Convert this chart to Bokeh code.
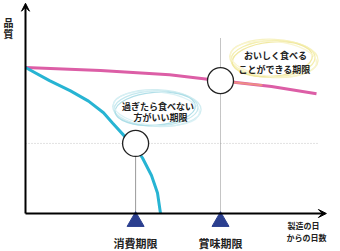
from bokeh.plotting import figure
from bokeh.models import Range1d, Arrow, VeeHead
from bokeh.core.properties import value
from bokeh.embed import file_html
from bokeh.resources import INLINE

# ---- data (days since manufacture, quality index) ----
days_taste = [0, 25, 48, 65, 82, 97]
quality_taste = [100, 98, 95, 91, 87, 82]

days_safety = [0, 8, 15, 21, 26, 29, 33, 36, 39, 42, 44, 45]
quality_safety = [100, 91, 84, 77, 69, 62, 53, 47, 38, 26, 14, 0]

deadline_days = [36.7, 65]
deadline_quality = [48, 91]
deadline_labels = ["消費期限", "賞味期限"]

y_axis_label = ["品", "質"]
x_axis_label = ["製造の日", "からの日数"]

callout_safety = ["過ぎたら食べない", "方がいい期限"]
callout_taste = ["おいしく食べる", "ことができる期限"]

FONT = value("Noto Sans CJK JP")

p = figure(width=340, height=251, output_backend="svg", toolbar_location=None,
           x_range=Range1d(-25 / 3, 315 / 3), y_range=Range1d(-38 / 1.46, 213 / 1.46),
           min_border=0, min_border_left=0, min_border_right=0,
           min_border_top=0, min_border_bottom=0)
p.axis.visible = False
p.xaxis.visible = False
p.yaxis.visible = False
p.grid.visible = False
p.outline_line_color = None
p.background_fill_color = "white"
p.border_fill_color = "white"

# guide lines
p.line([0, 97.7], [deadline_quality[0], deadline_quality[0]], line_color="#c4c4c4",
       line_width=1, line_dash="1 2")
p.line([deadline_days[1], deadline_days[1]], [0, 120], line_color="#8a8a8a",
       line_width=1, line_dash="1 1")
p.line([deadline_days[0], deadline_days[0]], [0, deadline_quality[0]], line_color="#333333",
       line_width=1, line_dash="1 1")

# callout rings (scribbled ellipses)
for dw, dh, ang, col in [(0, 0, 0.03, "#bfe5ec"), (1.5, 1.2, -0.04, "#cdebf0"),
                         (-1.2, -1.5, 0.08, "#a9dbe5"), (0.8, -0.8, -0.1, "#d7f0f4")]:
    p.ellipse(x=43.5 + dw * 0.2, y=72 + dh * 0.2, width=28 + dw, height=24 + dh, angle=ang,
              fill_color=None, line_color=col, line_width=1.3, line_alpha=0.9)
for dw, dh, ang, col in [(0, 0, 0.03, "#f3eda6"), (1.5, 1.2, -0.05, "#f6f1bd"),
                         (-1.2, -1.5, 0.09, "#efe79a"), (0.8, -0.8, -0.1, "#f8f4cc")]:
    p.ellipse(x=82.5 + dw * 0.2, y=106 + dh * 0.2, width=28 + dw, height=25 + dh, angle=ang,
              fill_color=None, line_color=col, line_width=1.3, line_alpha=0.9)

# curves
p.line(days_taste, quality_taste, line_color="#dc5ea6", line_width=3)
p.line([69, 74, 79], [89.9, 88.8, 87.8], line_color="#f39a7c", line_width=2, line_alpha=0.8)
p.line(days_safety, quality_safety, line_color="#27b4d3", line_width=3)

# axes with arrows
p.add_layout(Arrow(end=VeeHead(size=8, line_color="black", fill_color="black", line_width=1),
                   x_start=0, y_start=0, x_end=0, y_end=144, line_width=2, line_color="black"))
p.add_layout(Arrow(end=VeeHead(size=8, line_color="black", fill_color="black", line_width=1),
                   x_start=0, y_start=0, x_end=100.3, y_end=0, line_width=2, line_color="black"))

# deadline circles and triangles
p.scatter(deadline_days, deadline_quality, marker="circle", size=26, fill_color="white",
          line_color="#222222", line_width=1.3)
p.scatter(deadline_days, [-5.5, -5.5], marker="triangle", size=17,
          fill_color="#2b3f8f", line_color="#2b3f8f")

# labels
p.text(deadline_days, [-19.9, -19.9], text=deadline_labels, text_font=FONT,
       text_font_style="bold", text_font_size="11px", text_align="center",
       text_baseline="middle", text_color="#222222")
p.text([-5.7, -5.7], [130.5, 123], text=y_axis_label, text_font=FONT,
       text_font_style="bold", text_font_size="10px", text_align="center",
       text_baseline="middle", text_color="#222222")
p.text([92.7, 93.7], [-8.2, -16.4], text=x_axis_label, text_font=FONT,
       text_font_style="bold", text_font_size="8px", text_align="center",
       text_baseline="middle", text_color="#222222")
p.text([44.2, 45], [73.5, 65.5], text=callout_safety, text_font=FONT,
       text_font_style="bold", text_font_size="9px", text_align="center",
       text_baseline="middle", text_color="#222222")
p.text([83.3, 83], [108.2, 98.6], text=callout_taste, text_font=FONT,
       text_font_style="bold", text_font_size="9px", text_align="center",
       text_baseline="middle", text_color="#222222")

open("out.html", "w").write(file_html(p, INLINE))
